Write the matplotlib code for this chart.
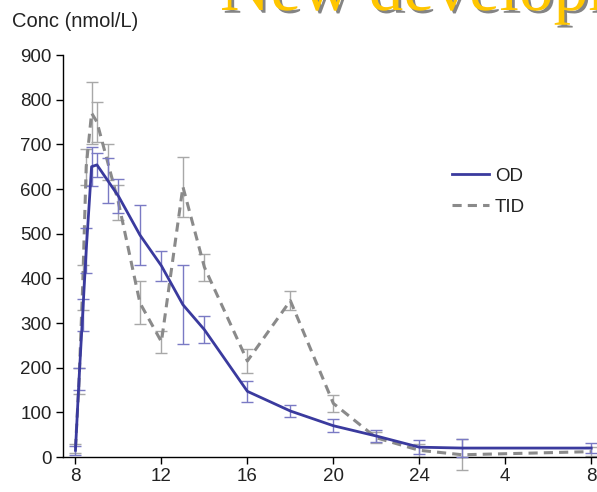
import matplotlib
matplotlib.use("Agg")
import matplotlib.pyplot as plt
import matplotlib.patheffects as pe

# clock time in hours (32 = 08:00 next day)
time_h = [8.0, 8.167, 8.333, 8.5, 8.75, 9.0, 9.5, 10, 11, 12, 13, 14, 16, 18, 20, 22, 24, 26, 32]
od_mean = [15, 175, 318, 463, 650, 654, 619, 584, 497, 428, 341, 285, 147, 103, 70, 47, 22, 20, 20]
od_err = [10, 25, 35, 50, 44, 27, 50, 38, 67, 33, 88, 30, 24, 13, 14, 13, 15, 20, 11]
tid_mean = [20, 170, 380, 650, 770, 750, 660, 570, 345, 258, 605, 425, 215, 350, 120, 43, 15, 5, 12]
tid_err = [10, 30, 50, 40, 70, 45, 40, 40, 48, 25, 67, 30, 26, 21, 19, 12, 14, 35, 10]

xticks = [8, 12, 16, 20, 24, 28, 32]
xticklabels = ["8", "12", "16", "20", "24", "4", "8"]
yticks = [0, 100, 200, 300, 400, 500, 600, 700, 800, 900]

plt.rcParams['font.family'] = ['Liberation Sans', 'DejaVu Sans']

W, H = 597, 492
fig = plt.figure(figsize=(W / 100, H / 100), dpi=100)
ax = fig.add_axes([63 / W, (H - 457) / H, (W - 63) / W, (457 - 55) / H])

od_color = '#3a3a9e'
od_ecolor = '#7a7ac4'
tid_color = '#8a8a8a'
tid_ecolor = '#a8a8a8'

ax.errorbar(time_h, tid_mean, yerr=tid_err, color=tid_color, ecolor=tid_ecolor,
            elinewidth=1.0, capsize=4, capthick=1.0, lw=2.2, dashes=(3, 2),
            label='TID', zorder=2)
ax.errorbar(time_h, od_mean, yerr=od_err, color=od_color, ecolor=od_ecolor,
            elinewidth=1.0, capsize=4, capthick=1.0, lw=2.0,
            label='OD', zorder=3)

ax.set_xlim(7.42, 32.27)
ax.set_ylim(0, 900)
ax.set_xticks(xticks)
ax.set_xticklabels(xticklabels)
ax.set_yticks(yticks)
ax.tick_params(axis='both', direction='out', length=5, width=1, labelsize=13.5,
               colors='black', pad=3)
ax.tick_params(axis='y', labelcolor='#222222')
ax.tick_params(axis='x', labelcolor='#222222')
for s in ['top', 'right']:
    ax.spines[s].set_visible(False)
for s in ['left', 'bottom']:
    ax.spines[s].set_linewidth(1.0)
    ax.spines[s].set_color('black')
for coll in ax.collections + ax.lines:
    coll.set_clip_on(False)

handles, labels = ax.get_legend_handles_labels()
order = [labels.index('OD'), labels.index('TID')]
leg = ax.legend([handles[i][0] for i in order], [labels[i] for i in order],
                loc='upper left', bbox_to_anchor=(0.728, 0.72), frameon=False,
                fontsize=13.5, handlelength=2.0, handletextpad=0.3,
                borderaxespad=0, borderpad=0, labelspacing=0.75)
for t in leg.get_texts():
    t.set_color('#222222')

fig.text(12 / W, (H - 27) / H, 'Conc (nmol/L)', fontsize=14.5, ha='left',
         va='baseline', color='#222222')

fig.text(220 / W, (H - 10) / H, 'New developments', fontsize=50,
         family=['Liberation Serif', 'DejaVu Serif'], color='#FFC600',
         ha='left', va='baseline',
         path_effects=[pe.SimplePatchShadow(offset=(2, -2), shadow_rgbFace='#333333', alpha=0.6),
                       pe.Normal()])

fig.savefig('out.png', dpi=100)
